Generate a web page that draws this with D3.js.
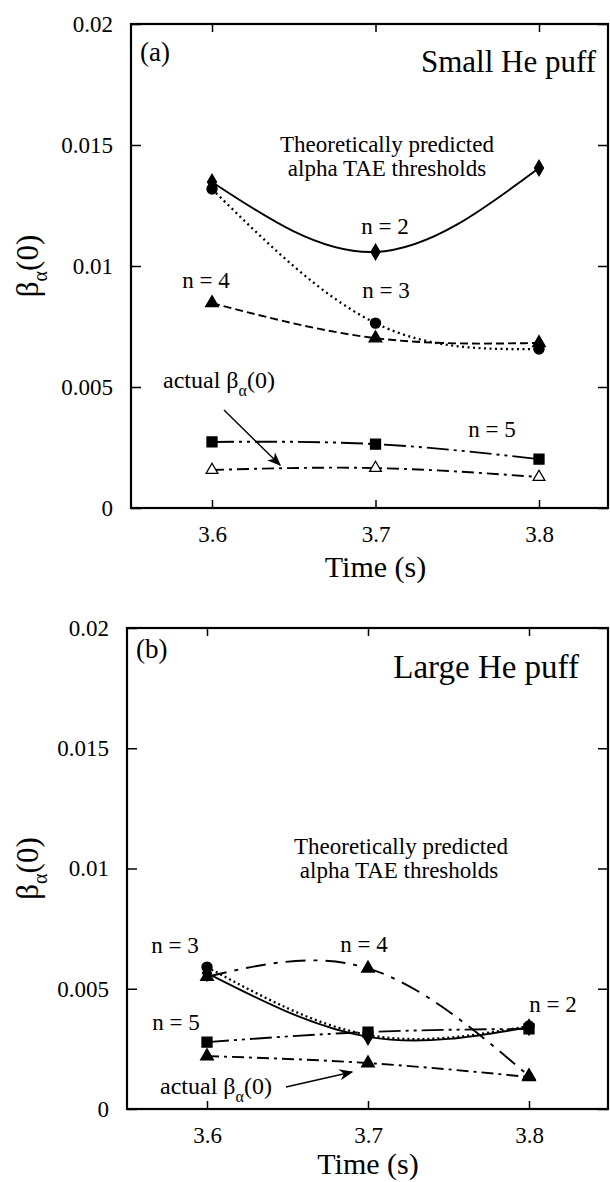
<!DOCTYPE html>
<html>
<head>
<meta charset="utf-8">
<script src="https://cdn.jsdelivr.net/npm/d3@7"></script>
<style>
  body { margin: 0; background: #fff; }
  svg text { font-family: "Liberation Serif", "DejaVu Serif", serif !important; fill: #000; }
</style>
</head>
<body>
<svg id="fig" width="610" height="1182" font-family="Liberation Serif"></svg>
<script>
// times (s)
var times = [3.6, 3.7, 3.8];
var yTicks = [0, 0.005, 0.01, 0.015, 0.02];
var yTickLabels = ["0", "0.005", "0.01", "0.015", "0.02"];

// (a) small He puff
var smallN2 = [0.01347, 0.01058, 0.01405];
var smallN3 = [0.01318, 0.00764, 0.00657];
var smallN4 = [0.00847, 0.00702, 0.00682];
var smallN5 = [0.00273, 0.00264, 0.00202];
var smallActual = [0.00157, 0.00165, 0.00128];

// (b) large He puff
var largeN2 = [0.00565, 0.00300, 0.00340];
var largeN3 = [0.00590, 0.00308, 0.00345];
var largeN4 = [0.00550, 0.00585, 0.00137];
var largeN5 = [0.00278, 0.00320, 0.00333];
var largeActual = [0.00220, 0.00191, 0.00133];

var svg = d3.select("#fig");

var defs = svg.append("defs");
defs.append("marker").attr("id", "arr")
    .attr("viewBox", "0 0 10 10").attr("refX", 9).attr("refY", 5)
    .attr("markerWidth", 14).attr("markerHeight", 14)
    .attr("markerUnits", "userSpaceOnUse").attr("orient", "auto")
    .append("path").attr("d", "M0,1 L10,5 L0,9 L3,5 Z").attr("fill", "#000");

function panel(p) {
    var x = d3.scaleLinear().domain([3.6, 3.8]).range([p.x36, p.x38]);
    var y = d3.scaleLinear().domain([0, 0.02]).range([p.bottom, p.top]);
    var g = svg.append("g");

    // axes, ticks pointing inward
    g.append("g").attr("transform", "translate(" + p.left + ",0)")
        .call(d3.axisLeft(y).tickValues(yTicks).tickSize(-10).tickPadding(18)
            .tickFormat((d, i) => yTickLabels[i]));
    g.append("g").attr("transform", "translate(" + p.right + ",0)")
        .call(d3.axisRight(y).tickValues(yTicks).tickSize(-10).tickFormat(""));
    g.append("g").attr("transform", "translate(0," + p.bottom + ")")
        .call(d3.axisBottom(x).tickValues(times).tickSize(-8).tickPadding(18)
            .tickFormat(d3.format(".1f")));
    g.append("g").attr("transform", "translate(0," + p.top + ")")
        .call(d3.axisTop(x).tickValues(times).tickSize(-8).tickFormat(""));
    g.selectAll(".domain").remove();
    g.selectAll("g").attr("font-family", "Liberation Serif");
    g.selectAll(".tick line").attr("stroke", "#000").attr("stroke-width", 1.5);
    g.selectAll(".tick text").style("font-size", "23px");

    g.append("rect")
        .attr("x", p.left).attr("y", p.top)
        .attr("width", p.right - p.left).attr("height", p.bottom - p.top)
        .attr("fill", "none").attr("stroke", "#000").attr("stroke-width", 2.2);

    var line = d3.line().x((d, i) => x(times[i])).y(d => y(d)).curve(d3.curveNatural);

    p.series.forEach(s => {
        g.append("path").attr("d", line(s.values))
            .attr("fill", "none").attr("stroke", "#000")
            .attr("stroke-width", s.width || 1.9)
            .attr("stroke-dasharray", s.dash);
    });
    p.series.forEach(s => {
        g.selectAll(null).data(s.values).enter().append("path")
            .attr("transform", (d, i) => "translate(" + x(times[i]) + "," + y(d) + ")")
            .attr("d", d3.symbol().type(s.sym).size(s.size))
            .attr("fill", s.open ? "#fff" : "#000")
            .attr("stroke", "#000").attr("stroke-width", 1.3);
    });

    // y axis title
    var yt = g.append("text")
        .attr("transform", "translate(38," + (p.top + p.bottom) / 2 + ") rotate(-90)")
        .attr("text-anchor", "middle").style("font-size", "31px");
    yt.append("tspan").text("β");
    yt.append("tspan").attr("dy", 9).style("font-size", "20px").text("α");
    yt.append("tspan").attr("dy", -9).text("(0)");

    g.append("text").attr("x", x(3.7)).attr("y", p.bottom + p.timeDy)
        .attr("text-anchor", "middle").style("font-size", "30px").text("Time (s)");

    g.append("text").attr("x", p.left + 9).attr("y", p.tagY)
        .style("font-size", "27px").text(p.tag);
    g.append("text").attr("x", p.titleX).attr("y", p.titleY)
        .attr("text-anchor", "end").style("font-size", p.titleSize + "px").text(p.title);

    p.notes.forEach(n => {
        g.append("text").attr("x", n[0]).attr("y", n[1])
            .attr("text-anchor", "middle").style("font-size", "23px").text(n[2]);
    });

    var at = g.append("text").attr("x", p.actual[0]).attr("y", p.actual[1])
        .style("font-size", "24px");
    at.append("tspan").text("actual β");
    at.append("tspan").attr("dy", 8).style("font-size", "16px").text("α");
    at.append("tspan").attr("dy", -8).text("(0)");

    g.append("line")
        .attr("x1", p.arrow[0]).attr("y1", p.arrow[1])
        .attr("x2", p.arrow[2]).attr("y2", p.arrow[3])
        .attr("stroke", "#000").attr("stroke-width", 1.4)
        .attr("marker-end", "url(#arr)");
}

panel({
    left: 131, right: 608, top: 24, bottom: 508, x36: 212, x38: 539, timeDy: 69,
    tag: "(a)", tagY: 61, title: "Small He puff", titleX: 596, titleY: 72, titleSize: 31,
    series: [
        { values: smallN2, dash: null, sym: d3.symbolDiamond, size: 70 },
        { values: smallN3, dash: "2,3.5", sym: d3.symbolCircle, size: 80, width: 2.3 },
        { values: smallN4, dash: "8,4", sym: d3.symbolTriangle, size: 70 },
        { values: smallN5, dash: "22,5,3,5,3,5", sym: d3.symbolSquare, size: 100 },
        { values: smallActual, dash: "12,5,3,5", sym: d3.symbolTriangle, size: 60, open: true }
    ],
    notes: [
        [387, 152, "Theoretically predicted"],
        [387, 176, "alpha TAE thresholds"],
        [385, 234, "n = 2"],
        [206, 288, "n = 4"],
        [386, 298, "n = 3"],
        [492, 437, "n = 5"]
    ],
    actual: [163, 388],
    arrow: [224, 410, 280, 465]
});

panel({
    left: 127, right: 608, top: 628, bottom: 1109, x36: 207, x38: 529, timeDy: 65,
    tag: "(b)", tagY: 658, title: "Large He puff", titleX: 579, titleY: 678, titleSize: 33,
    series: [
        { values: largeN2, dash: null, sym: d3.symbolDiamond, size: 70 },
        { values: largeN3, dash: "2,3", sym: d3.symbolCircle, size: 80, width: 2.3 },
        { values: largeN4, dash: "20,8,4,8", sym: d3.symbolTriangle, size: 70 },
        { values: largeN5, dash: "22,5,3,5,3,5", sym: d3.symbolSquare, size: 100 },
        { values: largeActual, dash: "12,5,3,5", sym: d3.symbolTriangle, size: 70 }
    ],
    notes: [
        [401, 854, "Theoretically predicted"],
        [399, 878, "alpha TAE thresholds"],
        [175, 953, "n = 3"],
        [364, 952, "n = 4"],
        [553, 1012, "n = 2"],
        [176, 1030, "n = 5"]
    ],
    actual: [160, 1094],
    arrow: [286, 1087, 352, 1072]
});
</script>
</body>
</html>
